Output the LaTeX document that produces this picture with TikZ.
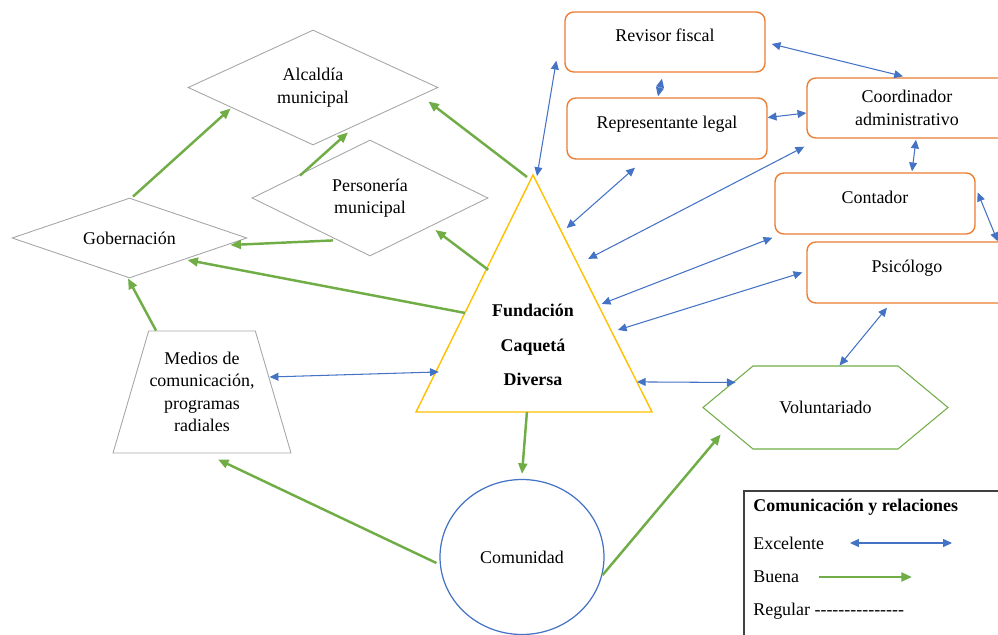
\documentclass[tikz,border=0pt]{standalone}
\usepackage{fontspec}
\setmainfont{Liberation Serif}[Ligatures=TeXOff]
\usetikzlibrary{shapes.geometric,shapes.symbols,arrows.meta,calc}
\definecolor{azul}{HTML}{4472C4}
\definecolor{verde}{HTML}{70AD47}
\definecolor{naranja}{HTML}{ED7D31}
\definecolor{dorado}{HTML}{FFC000}
\definecolor{gris}{HTML}{A6A6A6}

\begin{document}
\begin{tikzpicture}[x=0.02cm, y=-0.02cm,
	font=\fontsize{10.2}{12.8}\selectfont,
	cargo/.style={draw=naranja, line width=0.8pt, rounded corners=5pt, minimum width=4cm, minimum height=1.2cm, align=center},
	alto/.style={text height=7pt, text depth=7pt},
	rombo/.style={diamond, draw=gris, line width=0.5pt, inner sep=0pt, align=center},
	ley/.style={anchor=west, inner sep=0pt},
	exc/.style={azul, line width=0.6pt, {Triangle[length=5pt,width=4.5pt]}-{Triangle[length=5pt,width=4.5pt]}},
	bue/.style={verde, line width=1.4pt, -{Triangle[length=6pt,width=5pt]}}]
	\useasboundingbox (0,0) rectangle (998,635);
	\clip (0,0) rectangle (998,635);

	\node[cargo, alto] (rev) at (665,42) {Revisor fiscal};
	\node[cargo, alto, minimum height=1.22cm] (rep) at (667,128.5) {Representante legal};
	\node[cargo] (coo) at (907,108) {Coordinador\\administrativo};
	\node[cargo, alto, minimum height=1.22cm] (cont) at (875,203.5) {Contador};
	\node[cargo, alto, minimum height=1.22cm] (psi) at (907,272.5) {Psicólogo};

	\node[rombo, aspect=2.17, minimum width=5cm, minimum height=2.3cm] (alc) at (313,87.5) {Alcaldía\\municipal};
	\node[rombo, aspect=2.03, minimum width=4.72cm, minimum height=2.32cm] (per) at (370,198) {Personería\\municipal};
	\node[rombo, aspect=2.94, minimum width=4.7cm, minimum height=1.6cm] (gob) at (129.5,238) {Gobernación};
	\node[trapezium, trapezium left angle=66, trapezium right angle=66, trapezium stretches body, draw=gris, line width=0.5pt, minimum width=3.56cm, minimum height=2.44cm, inner sep=0pt, align=center] (med) at (202,392) {Medios de\\comunicación,\\programas\\radiales};

	\node[signal, signal to=west and east, signal pointer angle=79.4, draw=verde, line width=0.6pt, minimum width=4.9cm, minimum height=1.66cm] (vol) at (825.5,407.5) {Voluntariado};
	\node[ellipse, draw=azul, line width=0.7pt, minimum width=3.28cm, minimum height=3.1cm, inner sep=0pt] (com) at (522,557) {Comunidad};

	\coordinate (tA) at (533,175);
	\coordinate (tL) at (416,412);
	\coordinate (tR) at (652,412);
	\draw[dorado, line width=0.8pt] (tA) -- (tL) -- (tR) -- cycle;
	\node[font=\bfseries\fontsize{10.2}{19.6}\selectfont, align=center] (fund) at (533,345) {Fundación\\Caquetá\\Diversa};

	\draw[exc] ($(tA)+(4,1)$) -- ($(rev.south west)+(-8,-12)$);
	\draw[exc] ($(rev.south)+(-3,6)$) -- ($(rep.north)+(-9,-1)$);
	\draw[exc] ($(rev.east)+(6,2)$) -- ($(coo.north)+(-4,-1)$);
	\draw[exc] ($(rep.east)+(0,-11)$) -- ($(coo.west)+(0,5)$);
	\draw[exc] ($(coo.south)+(9,1)$) -- ($(cont.north)+(37,-1)$);
	\draw[exc] ($(rep.south)+(-32,8)$) -- ($(tA)!0.224!(tR)+(7,0)$);
	\draw[exc] ($(coo.south west)+(-2,8)$) -- ($(tA)!0.354!(tR)+(13,0)$);
	\draw[exc] ($(cont.south west)+(-2,3)$) -- ($(tA)!0.544!(tR)+(4,0)$);
	\draw[exc] ($(psi.west)+(-4,0)$) -- ($(tA)!0.654!(tR)+(7,0)$);
	\draw[exc] ($(cont.east)+(2,-11)$) -- ($(psi.north east)+(-10,0)$);
	\draw[exc] ($(psi.south)+(-20,4)$) -- ($(vol.north)+(14,0)$);
	\draw[exc] ($(tA)!0.873!(tR)$) -- ($(vol.west)+(33.5,-25)$);
	\draw[exc] ($(med.east)+(-4,-15)$) -- ($(tA)!0.831!(tL)+(3,0)$);

	\draw[bue] ($(tA)+(-6,2)$) -- ($(alc.east)+(-10,14)$);
	\draw[bue] ($(tA)!0.40!(tL)+(2,0)$) -- ($(per.east)+(-53,32)$);
	\draw[bue] ($(tA)!0.582!(tL)$) -- ($(gob.east)+(-60,22)$);
	\draw[bue] ($(per.south)+(-37,-16)$) -- ($(gob.east)+(-17,7)$);
	\draw[bue] ($(gob.north)+(3.5,-1)$) -- ($(alc.west)+(43,21)$);
	\draw[bue] ($(per.north)+(-70,36)$) -- ($(alc.south)+(35,-13)$);
	\draw[bue] ($(med.north)+(-46,0)$) -- ($(gob.south)+(-1.5,0)$);
	\draw[bue] ($(tL)!0.47!(tR)$) -- ($(com.north)+(0,-5)$);
	\draw[bue] ($(com.west)+(-3,6)$) -- ($(med.south)+(16,6)$);
	\draw[bue] ($(com.east)+(-2,18)$) -- ($(vol.west)+(18.5,27)$);

	\node[draw=black!75, line width=1.1pt, minimum width=5.4cm, minimum height=3.3cm, anchor=north west] (caja) at (743,490) {};
	\node[ley, font=\bfseries\fontsize{10.2}{12.8}\selectfont] (tit) at (753,507) {Comunicación y relaciones};
	\node[ley] (exct) at (753,543) {Excelente};
	\node[ley] (buet) at (753,577) {Buena};
	\node[ley] (regt) at (753,611) {Regular ---------------};
	\coordinate (e1) at (850,543);
	\coordinate (e2) at (952,543);
	\coordinate (b1) at (819,577);
	\coordinate (b2) at (912,577);
	\draw[exc] (e1) -- (e2);
	\draw[bue] (b1) -- (b2);
\end{tikzpicture}
\end{document}
